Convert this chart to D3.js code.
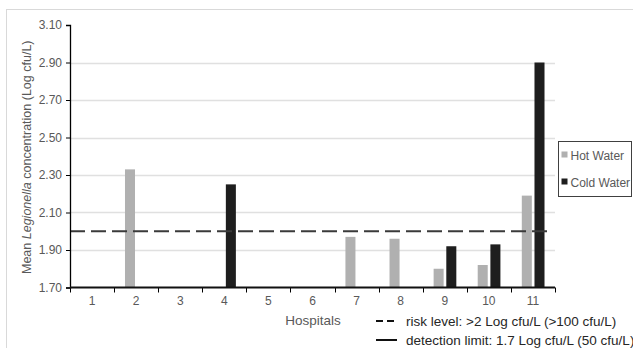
<!DOCTYPE html>
<html>
<head>
<meta charset="utf-8">
<script src="https://cdn.jsdelivr.net/npm/d3@7"></script>
<style>
  body { margin: 0; background: #fff; }
  svg { display: block; font-family: "Liberation Sans", Arial, sans-serif; }
  .tick-label { fill: #595959; font-size: 12px; }
</style>
</head>
<body>
<svg id="chart" width="633" height="348"></svg>
<script>
const hospitals = ["1", "2", "3", "4", "5", "6", "7", "8", "9", "10", "11"];
const hotWater = [1.70, 2.33, 1.70, 1.70, 1.70, 1.70, 1.97, 1.96, 1.80, 1.82, 2.19];
const coldWater = [1.70, 1.70, 1.70, 2.25, 1.70, 1.70, 1.70, 1.70, 1.92, 1.93, 2.90];
const yTicks = [1.70, 1.90, 2.10, 2.30, 2.50, 2.70, 2.90, 3.10];
const riskLevel = 2.0;
const detectionLimit = 1.7;

const seriesNames = ["Hot Water", "Cold Water"];
const seriesColors = { "Hot Water": "#b0b0b0", "Cold Water": "#1e1e1e" };

const rows = hospitals.map((h, i) => ({
  hospital: h,
  values: [
    { series: "Hot Water", value: hotWater[i] },
    { series: "Cold Water", value: coldWater[i] },
  ],
}));

const svg = d3.select("#chart");

// outer chart-area border
svg.append("rect")
  .attr("x", 6.5).attr("y", 9.5)
  .attr("width", 640).attr("height", 345)
  .attr("fill", "none")
  .attr("stroke", "#d9d9d9");

const plot = { left: 70, right: 555, top: 25, bottom: 287.5 };

const x0 = d3.scaleBand()
  .domain(hospitals)
  .range([plot.left, plot.right])
  .padding(0);

const x1 = d3.scaleBand()
  .domain(seriesNames)
  .range([x0.bandwidth() * 0.247, x0.bandwidth() * 0.762])
  .paddingInner(0.21);

const y = d3.scaleLinear()
  .domain([1.7, 3.1])
  .range([plot.bottom, plot.top]);

// gridlines
svg.append("g")
  .selectAll("line")
  .data(yTicks.filter((t) => t > 1.7 && t < 3.1))
  .join("line")
  .attr("x1", plot.left).attr("x2", plot.right)
  .attr("y1", (d) => Math.round(y(d)) + 0.5)
  .attr("y2", (d) => Math.round(y(d)) + 0.5)
  .attr("stroke", "#e0e0e0")
  .attr("stroke-width", 1.3);

// bars
const groups = svg.append("g")
  .selectAll("g")
  .data(rows)
  .join("g")
  .attr("transform", (d) => `translate(${x0(d.hospital)},0)`);

groups.selectAll("rect")
  .data((d) => d.values)
  .join("rect")
  .attr("x", (d) => x1(d.series))
  .attr("width", x1.bandwidth())
  .attr("y", (d) => y(d.value))
  .attr("height", (d) => y(1.7) - y(d.value))
  .attr("fill", (d) => seriesColors[d.series]);

// risk level dashed line
svg.append("line")
  .attr("x1", plot.left).attr("x2", 551)
  .attr("y1", y(riskLevel)).attr("y2", y(riskLevel))
  .attr("stroke", "#3a3a3a")
  .attr("stroke-width", 2)
  .attr("stroke-dasharray", "15,6");

// y axis
const yAxis = svg.append("g")
  .attr("transform", `translate(${plot.left},0)`)
  .call(d3.axisLeft(y).tickValues(yTicks).tickFormat(d3.format(".2f")).tickSize(4).tickPadding(4));
yAxis.select(".domain").attr("stroke", "#000").attr("stroke-width", 1.3);
yAxis.selectAll(".tick line").attr("stroke", "#000");
yAxis.selectAll(".tick text").attr("class", "tick-label").attr("font-family", null).attr("font-size", null);

// x axis with ticks at category boundaries
const xAxis = svg.append("g")
  .attr("transform", `translate(0,${plot.bottom})`)
  .call(d3.axisBottom(x0).tickSize(0).tickPadding(9));
xAxis.select(".domain").remove();
xAxis.selectAll(".tick text").attr("class", "tick-label").attr("font-family", null).attr("font-size", null);

const boundaries = hospitals.map((h) => x0(h)).concat([plot.right]);
svg.append("g")
  .selectAll("line")
  .data(boundaries)
  .join("line")
  .attr("x1", (d) => Math.round(d) + 0.5).attr("x2", (d) => Math.round(d) + 0.5)
  .attr("y1", plot.bottom).attr("y2", plot.bottom + 5)
  .attr("stroke", "#000");

// detection limit solid line along the axis
svg.append("line")
  .attr("x1", plot.left).attr("x2", plot.right)
  .attr("y1", y(detectionLimit)).attr("y2", y(detectionLimit))
  .attr("stroke", "#111")
  .attr("stroke-width", 2);

// axis titles
svg.append("text")
  .attr("x", 313).attr("y", 325)
  .attr("text-anchor", "middle")
  .attr("fill", "#595959")
  .attr("font-size", 13.5)
  .text("Hospitals");

const yTitle = svg.append("text")
  .attr("transform", `translate(31,${(plot.top + plot.bottom) / 2 + 1}) rotate(-90)`)
  .attr("text-anchor", "middle")
  .attr("fill", "#595959")
  .attr("font-size", 12.5);
yTitle.append("tspan").text("Mean ");
yTitle.append("tspan").attr("font-style", "italic").text("Legionella");
yTitle.append("tspan").text(" concentration (Log cfu/L)");

// series legend
const legend = svg.append("g").attr("transform", "translate(558.5,141.5)");
legend.append("rect")
  .attr("width", 73).attr("height", 55)
  .attr("fill", "#fff")
  .attr("stroke", "#404040");
const legendItems = legend.selectAll("g")
  .data(seriesNames)
  .join("g")
  .attr("transform", (d, i) => `translate(3,${14 + i * 27})`);
legendItems.append("rect")
  .attr("x", 0).attr("y", -4)
  .attr("width", 6).attr("height", 6)
  .attr("fill", (d) => seriesColors[d]);
legendItems.append("text")
  .attr("x", 9).attr("y", 0)
  .attr("dy", "0.35em")
  .attr("fill", "#595959")
  .attr("font-size", 12)
  .text((d) => d);

// reference-line legend
const refLegend = [
  { label: "risk level: >2 Log cfu/L (>100 cfu/L)", dash: "7,4" },
  { label: "detection limit: 1.7 Log cfu/L (50 cfu/L)", dash: null },
];
const refItems = svg.append("g")
  .selectAll("g")
  .data(refLegend)
  .join("g")
  .attr("transform", (d, i) => `translate(376,${321 + i * 19})`);
refItems.append("line")
  .attr("x1", 0).attr("x2", 21)
  .attr("stroke", "#111")
  .attr("stroke-width", 2)
  .attr("stroke-dasharray", (d) => d.dash);
refItems.append("text")
  .attr("x", 30)
  .attr("dy", "0.35em")
  .attr("fill", "#262626")
  .attr("font-size", 13.5)
  .text((d) => d.label);
</script>
</body>
</html>
